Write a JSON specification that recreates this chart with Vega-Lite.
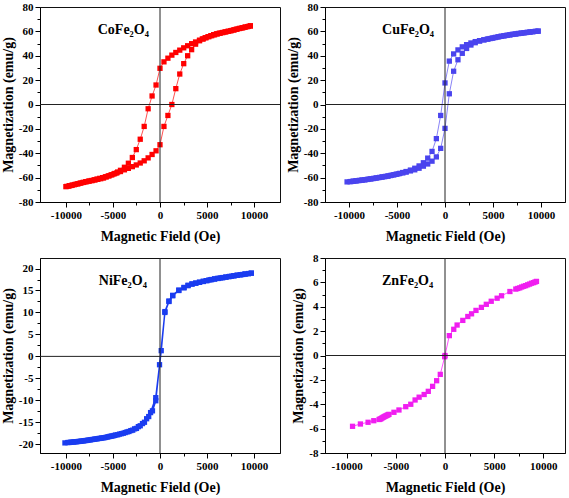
{
  "$schema": "https://vega.github.io/schema/vega-lite/v6.json",
  "padding": {"left": 0, "top": 0, "right": 2, "bottom": 0},
  "background": "white",
  "columns": 2,
  "spacing": {"row": 7, "column": 4},
  "datasets": {
    "co": [
      {"i":1,"H":9600,"M":64.4},{"i":2,"H":9300,"M":63.9},{"i":3,"H":9000,"M":63.4},{"i":4,"H":8700,"M":62.8},{"i":5,"H":8400,"M":62.3},{"i":6,"H":8100,"M":61.7},{"i":7,"H":7800,"M":61.1},{"i":8,"H":7500,"M":60.5},{"i":9,"H":7200,"M":60.0},{"i":10,"H":6900,"M":59.5},{"i":11,"H":6600,"M":59.0},{"i":12,"H":6300,"M":58.5},{"i":13,"H":6000,"M":58.0},{"i":14,"H":5700,"M":57.3},{"i":15,"H":5400,"M":56.5},{"i":16,"H":5100,"M":55.7},{"i":17,"H":4800,"M":54.8},{"i":18,"H":4500,"M":53.8},{"i":19,"H":4200,"M":52.8},{"i":20,"H":3780,"M":51.3},{"i":21,"H":3360,"M":49.9},{"i":22,"H":2940,"M":48.2},{"i":23,"H":2520,"M":46.5},{"i":24,"H":2100,"M":44.6},{"i":25,"H":1680,"M":42.7},{"i":26,"H":1260,"M":40.5},{"i":27,"H":840,"M":38.0},{"i":28,"H":420,"M":35.0},{"i":29,"H":0,"M":29.7},{"i":30,"H":-420,"M":16.0},{"i":31,"H":-840,"M":7.0},{"i":32,"H":-1260,"M":-3.5},{"i":33,"H":-1680,"M":-18.0},{"i":34,"H":-2100,"M":-28.5},{"i":35,"H":-2520,"M":-37.0},{"i":36,"H":-2940,"M":-43.5},{"i":37,"H":-3360,"M":-48.2},{"i":38,"H":-3780,"M":-51.5},{"i":39,"H":-4200,"M":-54.0},{"i":40,"H":-4500,"M":-55.4},{"i":41,"H":-4800,"M":-56.6},{"i":42,"H":-5100,"M":-57.6},{"i":43,"H":-5400,"M":-58.5},{"i":44,"H":-5700,"M":-59.4},{"i":45,"H":-6000,"M":-60.3},{"i":46,"H":-6300,"M":-60.9},{"i":47,"H":-6600,"M":-61.4},{"i":48,"H":-6900,"M":-61.9},{"i":49,"H":-7200,"M":-62.4},{"i":50,"H":-7500,"M":-62.8},{"i":51,"H":-7800,"M":-63.3},{"i":52,"H":-8100,"M":-63.9},{"i":53,"H":-8400,"M":-64.4},{"i":54,"H":-8700,"M":-65.0},{"i":55,"H":-9000,"M":-65.5},{"i":56,"H":-9300,"M":-66.1},{"i":57,"H":-9600,"M":-66.6},{"i":58,"H":-9900,"M":-67.2},{"i":59,"H":-10000,"M":-67.4},
      {"i":60,"H":-9700,"M":-67.0},{"i":61,"H":-9400,"M":-66.4},{"i":62,"H":-9100,"M":-65.8},{"i":63,"H":-8800,"M":-65.2},{"i":64,"H":-8500,"M":-64.6},{"i":65,"H":-8200,"M":-64.0},{"i":66,"H":-7900,"M":-63.4},{"i":67,"H":-7600,"M":-62.9},{"i":68,"H":-7300,"M":-62.4},{"i":69,"H":-7000,"M":-61.8},{"i":70,"H":-6700,"M":-61.2},{"i":71,"H":-6400,"M":-60.6},{"i":72,"H":-6100,"M":-60.0},{"i":73,"H":-5800,"M":-59.3},{"i":74,"H":-5500,"M":-58.6},{"i":75,"H":-5200,"M":-57.8},{"i":76,"H":-4900,"M":-57.0},{"i":77,"H":-4600,"M":-56.2},{"i":78,"H":-4200,"M":-55.0},{"i":79,"H":-3780,"M":-53.6},{"i":80,"H":-3360,"M":-52.4},{"i":81,"H":-2940,"M":-51.0},{"i":82,"H":-2520,"M":-49.6},{"i":83,"H":-2100,"M":-48.0},{"i":84,"H":-1680,"M":-46.2},{"i":85,"H":-1260,"M":-43.8},{"i":86,"H":-840,"M":-41.0},{"i":87,"H":-420,"M":-38.0},{"i":88,"H":0,"M":-33.0},{"i":89,"H":420,"M":-18.0},{"i":90,"H":840,"M":-9.0},{"i":91,"H":1260,"M":0.0},{"i":92,"H":1680,"M":13.0},{"i":93,"H":2100,"M":25.0},{"i":94,"H":2520,"M":33.5},{"i":95,"H":2940,"M":40.0},{"i":96,"H":3360,"M":45.0},{"i":97,"H":3780,"M":49.5},{"i":98,"H":4200,"M":52.3},{"i":99,"H":4600,"M":53.8},{"i":100,"H":4900,"M":54.8},{"i":101,"H":5200,"M":55.7},{"i":102,"H":5500,"M":56.5},{"i":103,"H":5800,"M":57.2},{"i":104,"H":6100,"M":57.9},{"i":105,"H":6400,"M":58.5},{"i":106,"H":6700,"M":59.1},{"i":107,"H":7000,"M":59.6},{"i":108,"H":7300,"M":60.1},{"i":109,"H":7600,"M":60.7},{"i":110,"H":7900,"M":61.3},{"i":111,"H":8200,"M":61.9},{"i":112,"H":8500,"M":62.5},{"i":113,"H":8800,"M":63.0},{"i":114,"H":9100,"M":63.6},{"i":115,"H":9400,"M":64.1},{"i":116,"H":9600,"M":64.6}
    ],
    "cu": [
      {"i":1,"H":9700,"M":60.2},{"i":2,"H":9400,"M":60.0},{"i":3,"H":9100,"M":59.7},{"i":4,"H":8800,"M":59.4},{"i":5,"H":8500,"M":59.1},{"i":6,"H":8200,"M":58.8},{"i":7,"H":7900,"M":58.5},{"i":8,"H":7600,"M":58.2},{"i":9,"H":7300,"M":57.8},{"i":10,"H":7000,"M":57.5},{"i":11,"H":6700,"M":57.1},{"i":12,"H":6400,"M":56.7},{"i":13,"H":6100,"M":56.3},{"i":14,"H":5800,"M":55.9},{"i":15,"H":5500,"M":55.4},{"i":16,"H":5200,"M":54.9},{"i":17,"H":4900,"M":54.4},{"i":18,"H":4500,"M":53.8},{"i":19,"H":4050,"M":53.1},{"i":20,"H":3600,"M":52.4},{"i":21,"H":3150,"M":51.6},{"i":22,"H":2700,"M":50.5},{"i":23,"H":2250,"M":49.1},{"i":24,"H":1800,"M":47.3},{"i":25,"H":1350,"M":44.8},{"i":26,"H":900,"M":41.5},{"i":27,"H":450,"M":35.6},{"i":28,"H":0,"M":17.7},{"i":29,"H":-450,"M":-9.0},{"i":30,"H":-900,"M":-28.0},{"i":31,"H":-1350,"M":-38.5},{"i":32,"H":-1800,"M":-44.0},{"i":33,"H":-2250,"M":-47.8},{"i":34,"H":-2700,"M":-50.4},{"i":35,"H":-3150,"M":-52.3},{"i":36,"H":-3600,"M":-53.8},{"i":37,"H":-4050,"M":-55.0},{"i":38,"H":-4400,"M":-55.8},{"i":39,"H":-4700,"M":-56.5},{"i":40,"H":-5000,"M":-57.1},{"i":41,"H":-5300,"M":-57.6},{"i":42,"H":-5600,"M":-58.1},{"i":43,"H":-5900,"M":-58.6},{"i":44,"H":-6200,"M":-59.0},{"i":45,"H":-6500,"M":-59.4},{"i":46,"H":-6800,"M":-59.8},{"i":47,"H":-7100,"M":-60.2},{"i":48,"H":-7400,"M":-60.6},{"i":49,"H":-7700,"M":-61.0},{"i":50,"H":-8000,"M":-61.3},{"i":51,"H":-8300,"M":-61.7},{"i":52,"H":-8600,"M":-62.0},{"i":53,"H":-8900,"M":-62.3},{"i":54,"H":-9200,"M":-62.6},{"i":55,"H":-9500,"M":-62.9},{"i":56,"H":-9800,"M":-63.2},{"i":57,"H":-10200,"M":-63.5},
      {"i":58,"H":-9900,"M":-63.3},{"i":59,"H":-9600,"M":-63.0},{"i":60,"H":-9300,"M":-62.7},{"i":61,"H":-9000,"M":-62.4},{"i":62,"H":-8700,"M":-62.1},{"i":63,"H":-8400,"M":-61.8},{"i":64,"H":-8100,"M":-61.5},{"i":65,"H":-7800,"M":-61.1},{"i":66,"H":-7500,"M":-60.8},{"i":67,"H":-7200,"M":-60.4},{"i":68,"H":-6900,"M":-60.0},{"i":69,"H":-6600,"M":-59.6},{"i":70,"H":-6300,"M":-59.2},{"i":71,"H":-6000,"M":-58.8},{"i":72,"H":-5700,"M":-58.3},{"i":73,"H":-5400,"M":-57.8},{"i":74,"H":-5100,"M":-57.3},{"i":75,"H":-4800,"M":-56.8},{"i":76,"H":-4400,"M":-56.1},{"i":77,"H":-4050,"M":-55.5},{"i":78,"H":-3600,"M":-54.5},{"i":79,"H":-3150,"M":-53.6},{"i":80,"H":-2700,"M":-52.3},{"i":81,"H":-2250,"M":-50.6},{"i":82,"H":-1800,"M":-48.8},{"i":83,"H":-1350,"M":-46.5},{"i":84,"H":-900,"M":-43.0},{"i":85,"H":-450,"M":-36.0},{"i":86,"H":0,"M":-19.6},{"i":87,"H":450,"M":8.8},{"i":88,"H":900,"M":27.3},{"i":89,"H":1350,"M":36.7},{"i":90,"H":1800,"M":42.0},{"i":91,"H":2250,"M":46.0},{"i":92,"H":2700,"M":48.8},{"i":93,"H":3150,"M":50.7},{"i":94,"H":3600,"M":52.0},{"i":95,"H":4050,"M":53.0},{"i":96,"H":4400,"M":53.6},{"i":97,"H":4700,"M":54.1},{"i":98,"H":5000,"M":54.6},{"i":99,"H":5300,"M":55.1},{"i":100,"H":5600,"M":55.6},{"i":101,"H":5900,"M":56.0},{"i":102,"H":6200,"M":56.4},{"i":103,"H":6500,"M":56.8},{"i":104,"H":6800,"M":57.2},{"i":105,"H":7100,"M":57.6},{"i":106,"H":7400,"M":57.9},{"i":107,"H":7700,"M":58.3},{"i":108,"H":8000,"M":58.6},{"i":109,"H":8300,"M":58.9},{"i":110,"H":8600,"M":59.2},{"i":111,"H":8900,"M":59.5},{"i":112,"H":9200,"M":59.8},{"i":113,"H":9500,"M":60.0},{"i":114,"H":9700,"M":60.2}
    ],
    "ni": [
      {"i":1,"H":9700,"M":18.95},{"i":2,"H":9400,"M":18.85},{"i":3,"H":9100,"M":18.75},{"i":4,"H":8800,"M":18.65},{"i":5,"H":8500,"M":18.55},{"i":6,"H":8200,"M":18.45},{"i":7,"H":7900,"M":18.35},{"i":8,"H":7600,"M":18.25},{"i":9,"H":7300,"M":18.15},{"i":10,"H":7000,"M":18.05},{"i":11,"H":6700,"M":17.95},{"i":12,"H":6400,"M":17.85},{"i":13,"H":6100,"M":17.75},{"i":14,"H":5800,"M":17.65},{"i":15,"H":5500,"M":17.5},{"i":16,"H":5200,"M":17.4},{"i":17,"H":4900,"M":17.25},{"i":18,"H":4600,"M":17.1},{"i":19,"H":4200,"M":16.9},{"i":20,"H":3800,"M":16.7},{"i":21,"H":3400,"M":16.5},{"i":22,"H":2980,"M":16.2},{"i":23,"H":2550,"M":15.7},{"i":24,"H":2000,"M":15.1},{"i":25,"H":1350,"M":13.9},{"i":26,"H":950,"M":12.6},{"i":27,"H":520,"M":10.2},{"i":28,"H":130,"M":1.3},{"i":29,"H":-450,"M":-9.4},{"i":30,"H":-1000,"M":-12.8},{"i":31,"H":-1420,"M":-14.2},{"i":32,"H":-1860,"M":-15.3},{"i":33,"H":-2300,"M":-16.0},{"i":34,"H":-2700,"M":-16.5},{"i":35,"H":-3100,"M":-16.9},{"i":36,"H":-3500,"M":-17.2},{"i":37,"H":-3900,"M":-17.5},{"i":38,"H":-4300,"M":-17.7},{"i":39,"H":-4700,"M":-17.9},{"i":40,"H":-5000,"M":-18.1},{"i":41,"H":-5300,"M":-18.2},{"i":42,"H":-5600,"M":-18.35},{"i":43,"H":-5900,"M":-18.5},{"i":44,"H":-6200,"M":-18.6},{"i":45,"H":-6500,"M":-18.7},{"i":46,"H":-6800,"M":-18.8},{"i":47,"H":-7100,"M":-18.9},{"i":48,"H":-7400,"M":-19.0},{"i":49,"H":-7700,"M":-19.1},{"i":50,"H":-8000,"M":-19.2},{"i":51,"H":-8300,"M":-19.28},{"i":52,"H":-8600,"M":-19.36},{"i":53,"H":-8900,"M":-19.44},{"i":54,"H":-9200,"M":-19.5},{"i":55,"H":-9500,"M":-19.56},{"i":56,"H":-9800,"M":-19.62},{"i":57,"H":-10100,"M":-19.7},
      {"i":58,"H":-9650,"M":-19.6},{"i":59,"H":-9350,"M":-19.53},{"i":60,"H":-9050,"M":-19.47},{"i":61,"H":-8750,"M":-19.4},{"i":62,"H":-8450,"M":-19.32},{"i":63,"H":-8150,"M":-19.24},{"i":64,"H":-7850,"M":-19.15},{"i":65,"H":-7550,"M":-19.05},{"i":66,"H":-7250,"M":-18.95},{"i":67,"H":-6950,"M":-18.85},{"i":68,"H":-6650,"M":-18.75},{"i":69,"H":-6350,"M":-18.65},{"i":70,"H":-6050,"M":-18.55},{"i":71,"H":-5750,"M":-18.45},{"i":72,"H":-5450,"M":-18.3},{"i":73,"H":-5150,"M":-18.15},{"i":74,"H":-4850,"M":-18.0},{"i":75,"H":-4500,"M":-17.85},{"i":76,"H":-4100,"M":-17.6},{"i":77,"H":-3700,"M":-17.35},{"i":78,"H":-3300,"M":-17.1},{"i":79,"H":-2900,"M":-16.8},{"i":80,"H":-2500,"M":-16.4},{"i":81,"H":-2100,"M":-15.8},{"i":82,"H":-1650,"M":-15.0},{"i":83,"H":-1200,"M":-13.7},{"i":84,"H":-800,"M":-12.4},{"i":85,"H":-450,"M":-10.1},{"i":86,"H":-50,"M":-1.9},{"i":87,"H":520,"M":10.0},{"i":88,"H":950,"M":12.5},{"i":89,"H":1350,"M":13.8},{"i":90,"H":2000,"M":15.0},{"i":91,"H":2550,"M":15.6},{"i":92,"H":2980,"M":16.1},{"i":93,"H":3400,"M":16.45},{"i":94,"H":3800,"M":16.65},{"i":95,"H":4200,"M":16.85},{"i":96,"H":4600,"M":17.05},{"i":97,"H":5000,"M":17.25},{"i":98,"H":5400,"M":17.45},{"i":99,"H":5800,"M":17.6},{"i":100,"H":6200,"M":17.75},{"i":101,"H":6600,"M":17.9},{"i":102,"H":7000,"M":18.05},{"i":103,"H":7400,"M":18.2},{"i":104,"H":7800,"M":18.35},{"i":105,"H":8200,"M":18.5},{"i":106,"H":8600,"M":18.6},{"i":107,"H":9000,"M":18.75},{"i":108,"H":9400,"M":18.85},{"i":109,"H":9700,"M":18.95}
    ],
    "zn": [
      {"i":1,"H":-9400,"M":-5.81},{"i":2,"H":-8600,"M":-5.62},{"i":3,"H":-7820,"M":-5.48},{"i":4,"H":-7240,"M":-5.35},{"i":5,"H":-6700,"M":-5.25},{"i":6,"H":-6600,"M":-5.22},{"i":7,"H":-6500,"M":-5.18},{"i":8,"H":-6400,"M":-5.12},{"i":9,"H":-6300,"M":-5.08},{"i":10,"H":-6200,"M":-5.03},{"i":11,"H":-6100,"M":-4.99},{"i":12,"H":-6000,"M":-4.95},{"i":13,"H":-5900,"M":-4.91},{"i":14,"H":-5800,"M":-4.87},{"i":15,"H":-5700,"M":-4.83},{"i":16,"H":-5190,"M":-4.66},{"i":17,"H":-4680,"M":-4.47},{"i":18,"H":-3990,"M":-4.2},{"i":19,"H":-3480,"M":-4.0},{"i":20,"H":-3040,"M":-3.65},{"i":21,"H":-2630,"M":-3.42},{"i":22,"H":-2120,"M":-3.2},{"i":23,"H":-1700,"M":-2.94},{"i":24,"H":-1260,"M":-2.53},{"i":25,"H":-850,"M":-2.07},{"i":26,"H":-480,"M":-1.55},{"i":27,"H":-30,"M":-0.1},{"i":28,"H":0,"M":0.0},{"i":29,"H":440,"M":1.63},{"i":30,"H":890,"M":2.15},{"i":31,"H":1230,"M":2.5},{"i":32,"H":1810,"M":2.88},{"i":33,"H":2320,"M":3.2},{"i":34,"H":2700,"M":3.42},{"i":35,"H":3150,"M":3.7},{"i":36,"H":3700,"M":3.95},{"i":37,"H":4200,"M":4.2},{"i":38,"H":4700,"M":4.45},{"i":39,"H":5300,"M":4.7},{"i":40,"H":5750,"M":4.9},{"i":41,"H":6600,"M":5.25},{"i":42,"H":7200,"M":5.45},{"i":43,"H":7400,"M":5.5},{"i":44,"H":7600,"M":5.55},{"i":45,"H":7800,"M":5.62},{"i":46,"H":8000,"M":5.68},{"i":47,"H":8200,"M":5.73},{"i":48,"H":8400,"M":5.8},{"i":49,"H":8600,"M":5.86},{"i":50,"H":8800,"M":5.93},{"i":51,"H":9000,"M":5.98},{"i":52,"H":9150,"M":6.03},{"i":53,"H":9300,"M":6.08}
    ]
  },
  "concat": [
    {
      "width": 240, "height": 195,
      "data": {"name": "co"},
      "resolve": {"axis": {"x": "independent", "y": "independent"}},
      "layer": [
        {"mark": {"type": "line", "color": "#ff5050", "strokeWidth": 1},
         "encoding": {
           "x": {"field": "H", "type": "quantitative", "scale": {"domain": [-12750, 12750], "nice": false, "zero": false},
                 "axis": {"title": "Magnetic Field (Oe)", "orient": "bottom", "values": [-10000,-5000,0,5000,10000], "labelExpr": "datum.value < 0 ? '-' + abs(datum.value) : '' + datum.value"}},
           "y": {"field": "M", "type": "quantitative", "scale": {"domain": [-80, 80], "nice": false, "zero": false},
                 "axis": {"title": "Magnetization (emu/g)", "orient": "left", "values": [-80,-60,-40,-20,0,20,40,60,80], "labelExpr": "datum.value < 0 ? '-' + abs(datum.value) : '' + datum.value"}},
           "order": {"field": "i", "type": "quantitative"}
         }},
        {"mark": {"type": "point", "shape": "square", "filled": true, "size": 28, "color": "#ff0000", "opacity": 1},
         "encoding": {
           "x": {"field": "H", "type": "quantitative", "axis": {"orient": "bottom", "title": null, "labels": false, "domain": false, "tickSize": 3, "values": [-7500,-2500,2500,7500]}},
           "y": {"field": "M", "type": "quantitative", "axis": {"orient": "left", "title": null, "labels": false, "domain": false, "tickSize": 3, "values": [-70,-50,-30,-10,10,30,50,70]}}}},
        {"data": {"values": [{}]}, "mark": {"type": "rule", "color": "#222", "strokeWidth": 1}, "encoding": {"x": {"datum": 0, "axis": null}}},
        {"data": {"values": [{}]}, "mark": {"type": "rule", "color": "#222", "strokeWidth": 1}, "encoding": {"y": {"datum": 0, "axis": null}}},
        {"data": {"values": [{}]}, "mark": {"type": "text", "font": "Liberation Serif", "fontWeight": "bold", "fontSize": 14, "color": "#000"},
         "encoding": {"x": {"datum": -3900, "axis": null}, "y": {"datum": 61, "axis": null}, "text": {"value": "CoFe₂O₄"}}}
      ]
    },
    {
      "width": 240, "height": 195,
      "data": {"name": "cu"},
      "resolve": {"axis": {"x": "independent", "y": "independent"}},
      "layer": [
        {"mark": {"type": "line", "color": "#8a84f6", "strokeWidth": 1},
         "encoding": {
           "x": {"field": "H", "type": "quantitative", "scale": {"domain": [-12500, 12500], "nice": false, "zero": false},
                 "axis": {"title": "Magnetic Field (Oe)", "orient": "bottom", "values": [-10000,-5000,0,5000,10000], "labelExpr": "datum.value < 0 ? '-' + abs(datum.value) : '' + datum.value"}},
           "y": {"field": "M", "type": "quantitative", "scale": {"domain": [-80, 80], "nice": false, "zero": false},
                 "axis": {"title": "Magnetization (emu/g)", "orient": "left", "values": [-80,-60,-40,-20,0,20,40,60,80], "labelExpr": "datum.value < 0 ? '-' + abs(datum.value) : '' + datum.value"}},
           "order": {"field": "i", "type": "quantitative"}
         }},
        {"mark": {"type": "point", "shape": "square", "filled": true, "size": 28, "color": "#4a44ee", "opacity": 1},
         "encoding": {
           "x": {"field": "H", "type": "quantitative", "axis": {"orient": "bottom", "title": null, "labels": false, "domain": false, "tickSize": 3, "values": [-7500,-2500,2500,7500]}},
           "y": {"field": "M", "type": "quantitative", "axis": {"orient": "left", "title": null, "labels": false, "domain": false, "tickSize": 3, "values": [-70,-50,-30,-10,10,30,50,70]}}}},
        {"data": {"values": [{}]}, "mark": {"type": "rule", "color": "#222", "strokeWidth": 1}, "encoding": {"x": {"datum": 0, "axis": null}}},
        {"data": {"values": [{}]}, "mark": {"type": "rule", "color": "#222", "strokeWidth": 1}, "encoding": {"y": {"datum": 0, "axis": null}}},
        {"data": {"values": [{}]}, "mark": {"type": "text", "font": "Liberation Serif", "fontWeight": "bold", "fontSize": 14, "color": "#000"},
         "encoding": {"x": {"datum": -3850, "axis": null}, "y": {"datum": 61, "axis": null}, "text": {"value": "CuFe₂O₄"}}}
      ]
    },
    {
      "width": 240, "height": 195,
      "data": {"name": "ni"},
      "resolve": {"axis": {"x": "independent", "y": "independent"}},
      "layer": [
        {"mark": {"type": "line", "color": "#1a3cf0", "strokeWidth": 1.5},
         "encoding": {
           "x": {"field": "H", "type": "quantitative", "scale": {"domain": [-12750, 12750], "nice": false, "zero": false},
                 "axis": {"title": "Magnetic Field (Oe)", "orient": "bottom", "values": [-10000,-5000,0,5000,10000], "labelExpr": "datum.value < 0 ? '-' + abs(datum.value) : '' + datum.value"}},
           "y": {"field": "M", "type": "quantitative", "scale": {"domain": [-22, 22.4], "nice": false, "zero": false},
                 "axis": {"title": "Magnetization (emu/g)", "orient": "left", "values": [-20,-15,-10,-5,0,5,10,15,20], "labelExpr": "datum.value < 0 ? '-' + abs(datum.value) : '' + datum.value"}},
           "order": {"field": "i", "type": "quantitative"}
         }},
        {"mark": {"type": "point", "shape": "square", "filled": true, "size": 28, "color": "#1a3cf0", "opacity": 1},
         "encoding": {
           "x": {"field": "H", "type": "quantitative", "axis": {"orient": "bottom", "title": null, "labels": false, "domain": false, "tickSize": 3, "values": [-7500,-2500,2500,7500]}},
           "y": {"field": "M", "type": "quantitative", "axis": {"orient": "left", "title": null, "labels": false, "domain": false, "tickSize": 3, "values": [-17.5,-12.5,-7.5,-2.5,2.5,7.5,12.5,17.5]}}}},
        {"data": {"values": [{}]}, "mark": {"type": "rule", "color": "#222", "strokeWidth": 1}, "encoding": {"x": {"datum": 0, "axis": null}}},
        {"data": {"values": [{}]}, "mark": {"type": "rule", "color": "#222", "strokeWidth": 1}, "encoding": {"y": {"datum": 0, "axis": null}}},
        {"data": {"values": [{}]}, "mark": {"type": "text", "font": "Liberation Serif", "fontWeight": "bold", "fontSize": 14, "color": "#000"},
         "encoding": {"x": {"datum": -3950, "axis": null}, "y": {"datum": 17.2, "axis": null}, "text": {"value": "NiFe₂O₄"}}}
      ]
    },
    {
      "width": 240, "height": 195,
      "data": {"name": "zn"},
      "resolve": {"axis": {"x": "independent", "y": "independent"}},
      "layer": [
        {"mark": {"type": "line", "color": "#ff50ff", "strokeWidth": 1},
         "encoding": {
           "x": {"field": "H", "type": "quantitative", "scale": {"domain": [-12200, 12200], "nice": false, "zero": false},
                 "axis": {"title": "Magnetic Field (Oe)", "orient": "bottom", "values": [-10000,-5000,0,5000,10000], "labelExpr": "datum.value < 0 ? '-' + abs(datum.value) : '' + datum.value"}},
           "y": {"field": "M", "type": "quantitative", "scale": {"domain": [-8, 8], "nice": false, "zero": false},
                 "axis": {"title": "Magnetization (emu/g)", "orient": "left", "values": [-8,-6,-4,-2,0,2,4,6,8], "labelExpr": "datum.value < 0 ? '-' + abs(datum.value) : '' + datum.value"}},
           "order": {"field": "i", "type": "quantitative"}
         }},
        {"mark": {"type": "point", "shape": "square", "filled": true, "size": 28, "color": "#f01ef0", "opacity": 1},
         "encoding": {
           "x": {"field": "H", "type": "quantitative", "axis": {"orient": "bottom", "title": null, "labels": false, "domain": false, "tickSize": 3, "values": [-7500,-2500,2500,7500]}},
           "y": {"field": "M", "type": "quantitative", "axis": {"orient": "left", "title": null, "labels": false, "domain": false, "tickSize": 3, "values": [-7,-5,-3,-1,1,3,5,7]}}}},
        {"data": {"values": [{}]}, "mark": {"type": "rule", "color": "#222", "strokeWidth": 1}, "encoding": {"x": {"datum": 0, "axis": null}}},
        {"data": {"values": [{}]}, "mark": {"type": "rule", "color": "#222", "strokeWidth": 1}, "encoding": {"y": {"datum": 0, "axis": null}}},
        {"data": {"values": [{}]}, "mark": {"type": "text", "font": "Liberation Serif", "fontWeight": "bold", "fontSize": 14, "color": "#000"},
         "encoding": {"x": {"datum": -3800, "axis": null}, "y": {"datum": 6.1, "axis": null}, "text": {"value": "ZnFe₂O₄"}}}
      ]
    }
  ],
  "config": {
    "view": {"stroke": "#111", "strokeWidth": 1},
    "axis": {"grid": false, "labelFont": "Liberation Serif", "labelFontWeight": "bold", "labelFontSize": 11, "labelColor": "#000",
             "titleFont": "Liberation Serif", "titleFontWeight": "bold", "titleFontSize": 14, "titleColor": "#000",
             "tickColor": "#000", "domainColor": "#000", "tickSize": 5, "labelPadding": 2, "labelOverlap": false, "labelFlush": false},
    "axisX": {"titlePadding": 9},
    "axisY": {"titlePadding": 3}
  }
}
